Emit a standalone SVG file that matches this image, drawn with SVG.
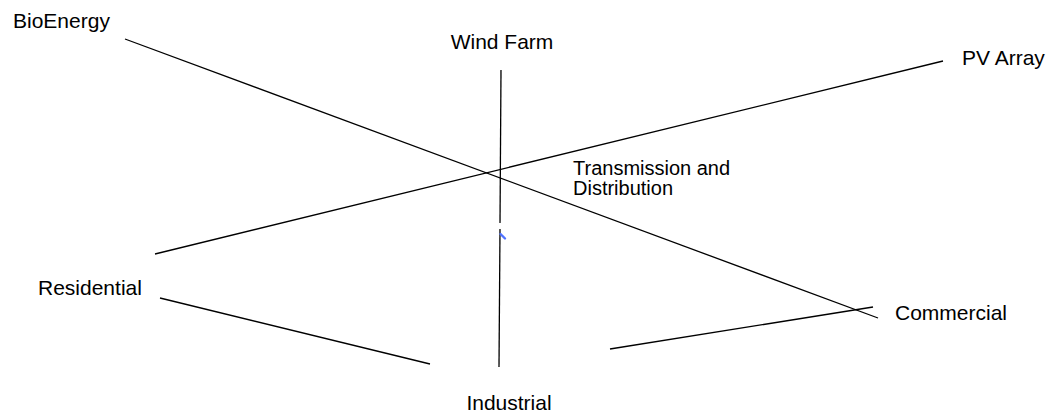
<svg xmlns="http://www.w3.org/2000/svg" width="1049" height="419" viewBox="0 0 1049 419">
<style>
.lbl{font-family:"Liberation Sans",Arial,sans-serif;font-size:21px;fill:#000}
.td{font-size:20px}
.edge{stroke:#000;stroke-width:1.3;fill:none}
</style>
<rect width="1049" height="419" fill="#fff"/>
<g id="connectors">
<line class="edge" x1="125" y1="39" x2="878" y2="318"/>
<line class="edge" x1="155" y1="254" x2="943" y2="61"/>
<line class="edge" x1="501" y1="70" x2="500" y2="223"/>
<line class="edge" x1="500" y1="229" x2="499" y2="367"/>
<line class="edge" x1="160" y1="298" x2="430" y2="364"/>
<line class="edge" x1="610" y1="349" x2="873" y2="307"/>
<path d="M500.5,234 L505,238.5" stroke="#5072ff" stroke-width="2.4" stroke-linecap="round" fill="none"/>
</g>
<g id="bioenergy"><text class="lbl" x="13" y="28">BioEnergy</text></g>
<g id="windfarm"><text class="lbl" x="502" y="49" text-anchor="middle">Wind Farm</text></g>
<g id="pvarray"><text class="lbl" x="962" y="65">PV Array</text></g>
<g id="td"><text class="lbl td" x="573" y="175">Transmission and</text><text class="lbl td" x="573" y="195">Distribution</text></g>
<g id="residential"><text class="lbl" x="38" y="295">Residential</text></g>
<g id="commercial"><text class="lbl" x="895" y="320">Commercial</text></g>
<g id="industrial"><text class="lbl" x="509" y="410" text-anchor="middle">Industrial</text></g>
</svg>
